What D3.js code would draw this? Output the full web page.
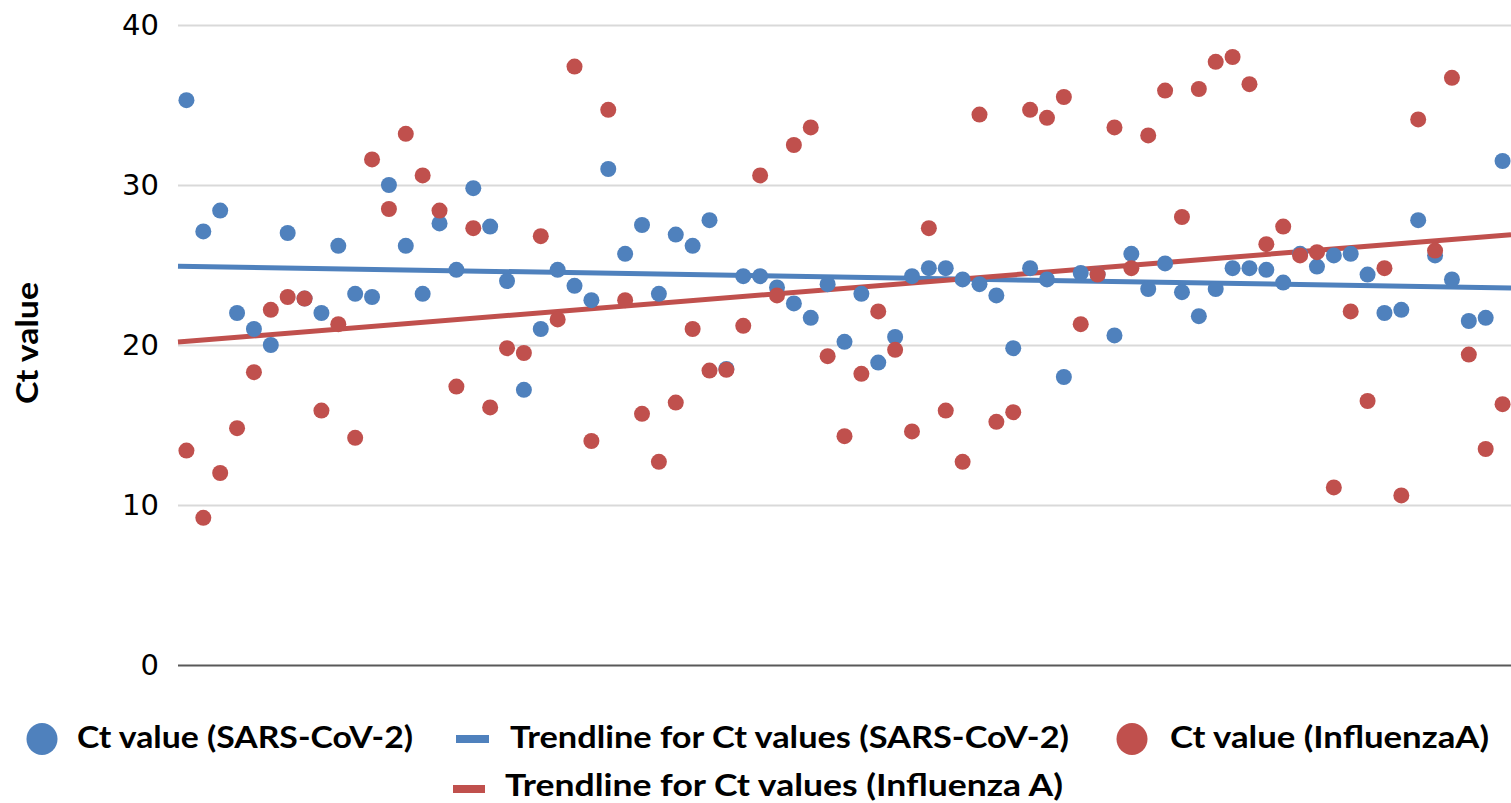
<!DOCTYPE html>
<html><head><meta charset="utf-8">
<script src="https://cdn.jsdelivr.net/npm/d3@7"></script>
<style>body{margin:0;background:#fff}</style>
</head><body><svg id="c" width="1511" height="803"></svg>
<script>
// Ct values, one per sample (category index 1..79)
const sarsCov2 = [35.3,27.1,28.4,22.0,21.0,20.0,27.0,22.9,22.0,26.2,
  23.2,23.0,30.0,26.2,23.2,27.6,24.7,29.8,27.4,24.0,
  17.2,21.0,24.7,23.7,22.8,31.0,25.7,27.5,23.2,26.9,
  26.2,27.8,18.5,24.3,24.3,23.6,22.6,21.7,23.8,20.2,
  23.2,18.9,20.5,24.3,24.8,24.8,24.1,23.8,23.1,19.8,
  24.8,24.1,18.0,24.5,24.4,20.6,25.7,23.5,25.1,23.3,
  21.8,23.5,24.8,24.8,24.7,23.9,25.7,24.9,25.6,25.7,
  24.4,22.0,22.2,27.8,25.6,24.1,21.5,21.7,31.5];
const influenzaA = [13.4,9.2,12.0,14.8,18.3,22.2,23.0,22.9,15.9,21.3,
  14.2,31.6,28.5,33.2,30.6,28.4,17.4,27.3,16.1,19.8,
  19.5,26.8,21.6,37.4,14.0,34.7,22.8,15.7,12.7,16.4,
  21.0,18.4,18.45,21.2,30.6,23.1,32.5,33.6,19.3,14.3,
  18.2,22.1,19.7,14.6,27.3,15.9,12.7,34.4,15.2,15.8,
  34.7,34.2,35.5,21.3,24.4,33.6,24.8,33.1,35.9,28.0,
  36.0,37.7,38.0,36.3,26.3,27.4,25.6,25.8,11.1,22.1,
  16.5,24.8,10.6,34.1,25.9,36.7,19.4,13.5,16.3];
const yTicks = [0,10,20,30,40];
const legendNames = ["Ct value (SARS-CoV-2)","Trendline for Ct values (SARS-CoV-2)",
  "Ct value (InfluenzaA)","Trendline for Ct values (Influenza A)"];
const yTitle = "Ct value";

const blue = "#4f81bd", red = "#c0504d";
const svg = d3.select("#c");
const L = 178, R = 1511, T = 25, B = 665;
const n = sarsCov2.length;
const x = d3.scaleLinear().domain([0.5, n + 0.5]).range([L, R]);
const y = d3.scaleLinear().domain([0, 40]).range([B, T]);

// gridlines
svg.append("g").attr("transform", `translate(${L},0)`)
  .call(d3.axisLeft(y).tickValues(yTicks).tickSize(-(R - L)).tickFormat(""))
  .call(g => g.select(".domain").remove())
  .call(g => g.selectAll(".tick line")
    .attr("stroke", d => d === 0 ? "#595959" : "#d9d9d9").attr("stroke-width", 2));

// tick labels
svg.append("g").attr("transform", `translate(159,0)`)
  .call(d3.axisLeft(y).tickValues(yTicks).tickSize(0).tickPadding(0))
  .call(g => g.select(".domain").remove())
  .call(g => g.selectAll("text").attr("font-family", "DejaVu Sans")
    .attr("font-size", 29).attr("fill", "#000"));

// y title
svg.append("text").attr("transform", "translate(38,343) rotate(-90)")
  .attr("text-anchor", "middle").attr("font-family", "Lato").attr("font-weight", "bold")
  .attr("font-size", 30).attr("textLength", 122).attr("lengthAdjust", "spacingAndGlyphs")
  .text(yTitle);

function linreg(vals) {
  const xs = vals.map((_, i) => i + 1);
  const mx = d3.mean(xs), my = d3.mean(vals);
  let sxy = 0, sxx = 0;
  vals.forEach((v, i) => { sxy += (xs[i] - mx) * (v - my); sxx += (xs[i] - mx) ** 2; });
  const b = sxy / sxx;
  return t => my + b * (t - mx);
}
const line = d3.line().x(d => x(d[0])).y(d => y(d[1]));
[[sarsCov2, blue], [influenzaA, red]].forEach(([vals, col]) => {
  const f = linreg(vals);
  svg.append("path").datum([[0.5, f(0.5)], [n + 0.5, f(n + 0.5)]])
    .attr("d", line).attr("stroke", col).attr("stroke-width", 5).attr("fill", "none");
});

// markers
[[sarsCov2, blue], [influenzaA, red]].forEach(([vals, col]) => {
  svg.append("g").selectAll("circle").data(vals).join("circle")
    .attr("cx", (d, i) => x(i + 1)).attr("cy", d => y(d)).attr("r", 8).attr("fill", col);
});

// legend
const lg = svg.append("g").attr("font-family", "Lato").attr("font-weight", "bold")
  .attr("font-size", 30).attr("fill", "#000");
function ltext(tx, ty, s, w) {
  lg.append("text").attr("x", tx).attr("y", ty).attr("textLength", w)
    .attr("lengthAdjust", "spacingAndGlyphs").text(s);
}
lg.append("ellipse").attr("cx", 42).attr("cy", 739).attr("rx", 15.5).attr("ry", 16).attr("fill", blue);
ltext(77, 748, legendNames[0], 336);
lg.append("rect").attr("x", 456).attr("y", 735).attr("width", 33).attr("height", 8).attr("fill", blue);
ltext(510, 748, legendNames[1], 559);
lg.append("ellipse").attr("cx", 1132).attr("cy", 739).attr("rx", 15.5).attr("ry", 16).attr("fill", red);
ltext(1170, 748, legendNames[2], 319);
lg.append("rect").attr("x", 453).attr("y", 785).attr("width", 32).attr("height", 8).attr("fill", red);
ltext(505, 796, legendNames[3], 558);
</script></body></html>
